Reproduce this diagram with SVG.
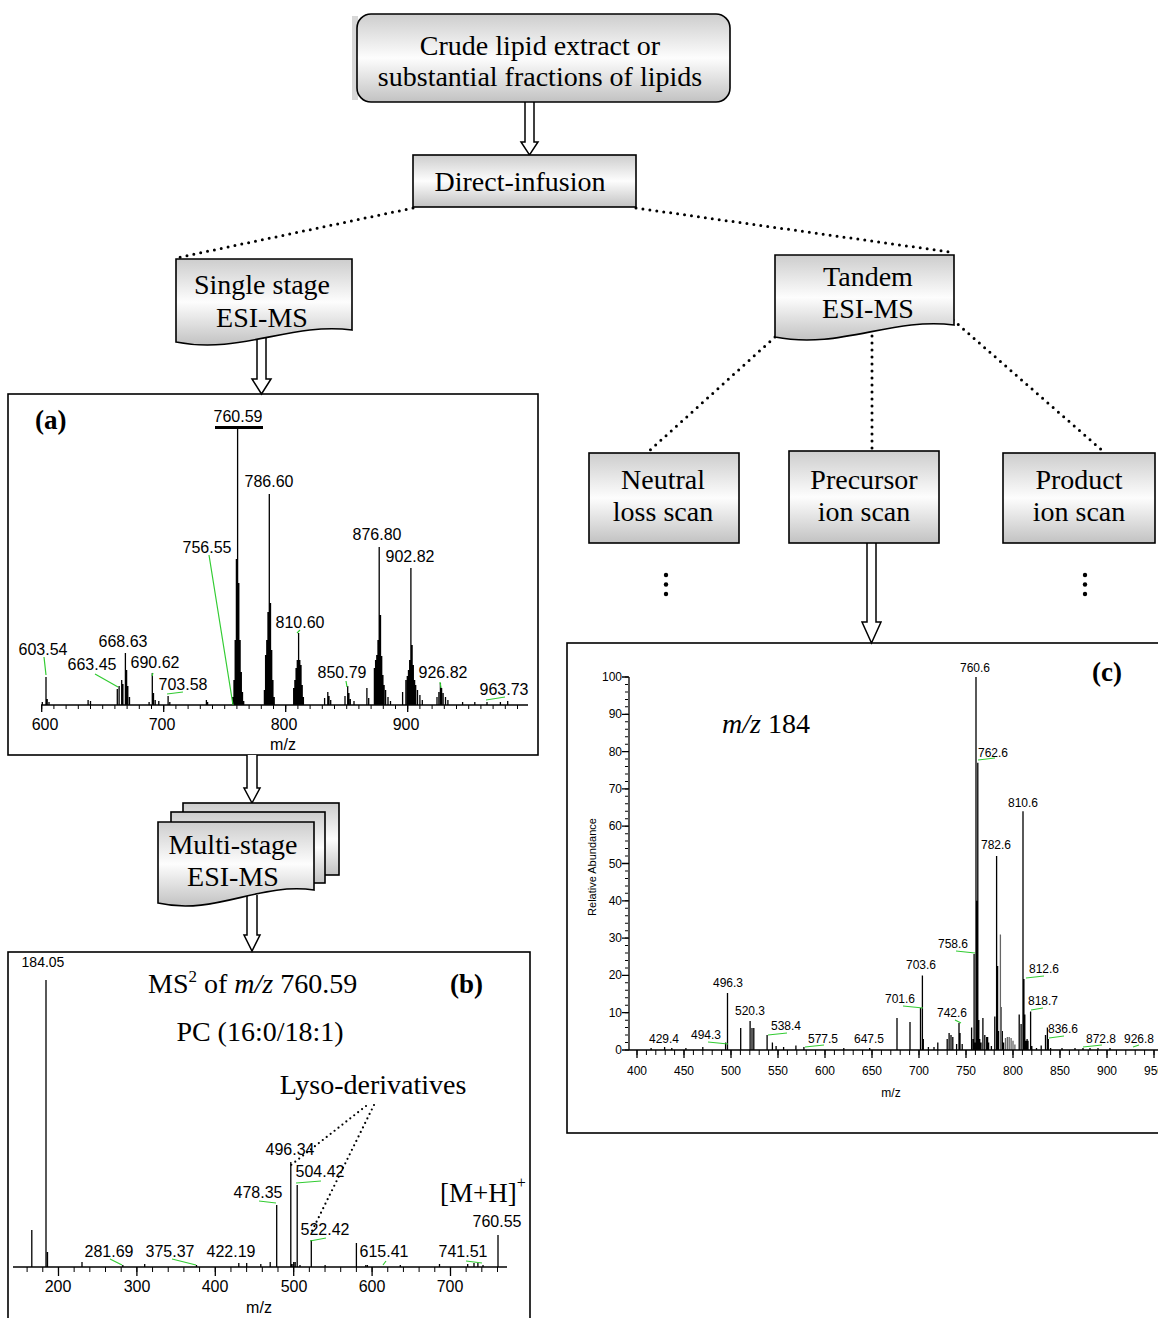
<svg xmlns="http://www.w3.org/2000/svg" width="1158" height="1318" viewBox="0 0 1158 1318">
<defs>
<linearGradient id="g" x1="0" y1="0" x2="0" y2="1">
<stop offset="0" stop-color="#cdcdcd"/><stop offset="0.5" stop-color="#fdfdfd"/><stop offset="1" stop-color="#c2c2c2"/>
</linearGradient>
<style>
.node{fill:url(#g);stroke:#000;stroke-width:1.6}
.t{font-family:"Liberation Serif","Times New Roman",serif;font-size:28px;text-anchor:middle;fill:#000}
.b{font-family:"Liberation Serif","Times New Roman",serif;font-size:27px;font-weight:bold;fill:#000}
.dot{fill:none;stroke:#000;stroke-width:3;stroke-dasharray:0 7;stroke-linecap:round}
.dot2{fill:none;stroke:#000;stroke-width:2.2;stroke-dasharray:0 5;stroke-linecap:round}
.arr{fill:#fff;stroke:#000;stroke-width:1.5}
.frame{fill:#fff;stroke:#000;stroke-width:1.6}
.sa{font-family:"Liberation Sans",Arial,sans-serif;font-size:16px;text-anchor:middle;fill:#000}
.sc{font-family:"Liberation Sans",Arial,sans-serif;font-size:12px;text-anchor:middle;fill:#000}
.lead{stroke:#3c3;stroke-width:1.2;fill:none}
.pk{stroke:#000;stroke-width:1.3;fill:none}
.ax{stroke:#000;stroke-width:1.3;fill:none}
</style>
</defs>
<rect width="1158" height="1318" fill="#fff"/>

<g id="spectrum-a">
<rect class="frame" x="8" y="394" width="530" height="361"/>
<text class="b" x="35" y="429">(a)</text>
<path class="pk" d="M42.3 705V702M46 705V677M47.2 705V699M49 705V702M88.1 705V700M90.5 705V701M117.3 705V689M119.1 705V686M121.7 705V680M122.9 705V684M125.4 705V653M126.6 705V670M127.8 705V686M129.5 705V697M149.1 705V702M152.3 705V673M153.5 705V693M155.2 705V700M158.8 705V701M168.1 705V696M169.8 705V702M206.4 705V700M207.6 705V702M232.7 705V697M234 705V680M235.2 705V640M236.4 705V559M237.6 705V428M238.8 705V583M240.1 705V640M241.3 705V672M242.5 705V692M243.7 705V701M264.4 705V690M265.6 705V655M266.8 705V640M268 705V612M269.3 705V494M270.5 705V603M271.7 705V650M272.9 705V680M274.2 705V697M293.7 705V688M294.9 705V680M296.1 705V668M297.3 705V660M298.6 705V633M299.8 705V660M301 705V665M302.2 705V685M303.4 705V697M324.6 705V698M327.8 705V692M329 705V696M330.7 705V700M345 705V696M347.7 705V686M348.9 705V693M350.3 705V699M354 705V701M366.9 705V688M368.7 705V698M374.4 705V668M375.6 705V660M376.8 705V655M378 705V640M379.2 705V547M380.5 705V615M381.7 705V656M382.9 705V675M384.1 705V685M385.6 705V690M388 705V697M390.5 705V701M402.6 705V692M405.9 705V680M407.3 705V676M408.5 705V670M409.7 705V660M410.9 705V568M412.1 705V645M413.3 705V665M414.6 705V680M415.7 705V685M417.5 705V690M419.9 705V695M422.3 705V700M437 705V697M438.9 705V692M440.4 705V683M441.6 705V688M443.1 705V693M445.5 705V697M447.9 705V700M462.6 705V702M474.8 705V702M487 705V702M500.4 705V702M507.7 705V701"/>
<path class="ax" d="M41 705H528"/>
<path d="M41.2 707H520" stroke="#000" stroke-width="4" stroke-dasharray="1 11.2" fill="none"/>
<path class="ax" d="M41.7 705V712M163.7 705V712M285.7 705V712M407.7 705V712"/>
<rect x="215" y="426" width="48" height="3" fill="#000"/>
<path class="lead" d="M44 657L46 675M95 674L118 687M153 673L152 676M167 694L183 692M209 555L233 705M297 633L300 630M346 681L347 687M440 682L441 688M486 700L505 697"/>
<g class="sa">
<text x="238" y="422">760.59</text>
<text x="269" y="487">786.60</text>
<text x="207" y="553">756.55</text>
<text x="377" y="540">876.80</text>
<text x="410" y="562">902.82</text>
<text x="300" y="628">810.60</text>
<text x="43" y="655">603.54</text>
<text x="123" y="647">668.63</text>
<text x="92" y="670">663.45</text>
<text x="155" y="668">690.62</text>
<text x="183" y="690">703.58</text>
<text x="342" y="678">850.79</text>
<text x="443" y="678">926.82</text>
<text x="504" y="695">963.73</text>
<text x="45" y="730">600</text>
<text x="162" y="730">700</text>
<text x="284" y="730">800</text>
<text x="406" y="730">900</text>
<text x="283" y="750">m/z</text>
</g>
</g>

<g id="spectrum-b">
<rect class="frame" x="8" y="952" width="522" height="380"/>
<text class="t" x="148" y="993" style="text-anchor:start">MS<tspan dy="-11" font-size="17">2</tspan><tspan dy="11"> of </tspan><tspan font-style="italic">m/z</tspan> 760.59</text>
<text class="b" x="450" y="993">(b)</text>
<text class="t" x="260" y="1041">PC (16:0/18:1)</text>
<text class="t" x="373" y="1094">Lyso-derivatives</text>
<text class="t" x="440" y="1202" style="text-anchor:start;font-size:27px">[M+H]<tspan dy="-14" font-size="16">+</tspan></text>
<path class="pk" d="M31.8 1267V1230M46 1267V980M47.5 1267V1252M82 1267V1262M122.8 1267V1265M144.7 1267V1264M196.5 1267V1265M238.8 1267V1263M246.7 1267V1263M260.8 1267V1264M270.2 1267V1262M276.7 1267V1205M290.8 1267V1162M292.1 1267V1264M293.7 1267V1262M295.2 1267V1262M297.2 1267V1185M300 1267V1265M311.3 1267V1240M325.1 1267V1265M356.4 1267V1243M365.8 1267V1265M367.4 1267V1265M400.3 1267V1265M439.5 1267V1264M467.7 1267V1264M474 1267V1263M477.9 1267V1263M483 1267V1265M498 1267V1235"/>
<path class="ax" d="M13 1267H507"/>
<path d="M26.6 1269.5H499" stroke="#000" stroke-width="5" stroke-dasharray="1 14.68" fill="none"/>
<path class="ax" d="M58.5 1267V1276M136.9 1267V1276M215.3 1267V1276M293.7 1267V1276M372.1 1267V1276M450.5 1267V1276"/>
<path class="lead" d="M296 1183L321 1181M259 1201L276 1203M310 1241L326 1238M110 1259L122 1265M172 1259L196 1265M383 1265L386 1261M466 1261L482 1263"/>
<g class="sa">
<text x="43" y="967" style="font-size:14px">184.05</text>
<text x="290" y="1155">496.34</text>
<text x="320" y="1177">504.42</text>
<text x="258" y="1198">478.35</text>
<text x="325" y="1235">522.42</text>
<text x="497" y="1227">760.55</text>
<text x="109" y="1257">281.69</text>
<text x="170" y="1257">375.37</text>
<text x="231" y="1257">422.19</text>
<text x="384" y="1257">615.41</text>
<text x="463" y="1257">741.51</text>
<text x="58" y="1292">200</text>
<text x="137" y="1292">300</text>
<text x="215" y="1292">400</text>
<text x="294" y="1292">500</text>
<text x="372" y="1292">600</text>
<text x="450" y="1292">700</text>
<text x="259" y="1313">m/z</text>
</g>
</g>

<g id="spectrum-c">
<rect class="frame" x="567" y="643" width="600" height="490"/>
<text class="b" x="1092" y="681">(c)</text>
<text class="t" x="722" y="733" style="text-anchor:start"><tspan font-style="italic">m/z</tspan> 184</text>
<path class="pk" d="M651.1 1050V1048M664.6 1050V1047M671.8 1050V1048M685.9 1050V1048M702.8 1050V1047M725.6 1050V1042.5M727.5 1050V993M740.7 1050V1028M750.1 1050V1021M752 1050V1028M753.8 1050V1028M767.1 1050V1035M772.4 1050V1042.5M776.1 1050V1046M783.6 1050V1047M795.9 1050V1045.5M803.9 1050V1047M843.8 1050V1048M869.7 1050V1048M897 1050V1018M910 1050V1022M920.5 1050V1008M922.4 1050V975.4M923.3 1050V1039M928.4 1050V1047M934 1050V1047M937.8 1050V1042.5M947.2 1050V1039M949.1 1050V1033M951 1050V1035M952.8 1050V1037M956.6 1050V1044M959 1050V1023M960 1050V1033M962.2 1050V1044M971.6 1050V1027.6M973.1 1050V1039M974.1 1050V954M975 1050V1042.5M976 1050V677M976.9 1050V900.8M977.8 1050V762.8M978.8 1050V1020M979.7 1050V1039M981 1050V1042.5M982.9 1050V1018M984.8 1050V1035M986.7 1050V1037M987.6 1050V1037M988.6 1050V1042.5M991.4 1050V1046M994.8 1050V1016.4M996.6 1050V856M997.6 1050V966M998.5 1050V1031M1002.3 1050V1031M1003.6 1050V1042.5M1019.2 1050V1014.6M1021.1 1050V1024M1023 1050V811.3M1023.9 1050V979M1024.8 1050V1014.6M1025.8 1050V1040.7M1027.1 1050V1039M1028 1050V1040.7M1030.6 1050V1011.6M1031.8 1050V1046M1036.5 1050V1048M1041.2 1050V1045.5M1045.5 1050V1035M1047.4 1050V1027.6M1048.3 1050V1039M1050.6 1050V1048M1062 1050V1048M1075 1050V1048M1083 1050V1048M1090 1050V1048M1098 1050V1048M1110 1050V1048"/>
<path d="M1000.4 1050V934.4M1001.3 1050V1007M1005.5 1050V1038M1007.4 1050V1037M1009.2 1050V1037M1011.1 1050V1038M1013 1050V1040.7M1014.9 1050V1044.4" stroke="#666" stroke-width="1.3" fill="none"/>
<path class="ax" d="M629 677V1050H1158"/>
<path d="M626.5 1050.5V676" stroke="#000" stroke-width="3" stroke-dasharray="1 6.46" fill="none"/>
<path class="ax" d="M622 677H629M622 714.3H629M622 751.6H629M622 788.9H629M622 826.2H629M622 863.5H629M622 900.8H629M622 938.1H629M622 975.4H629M622 1012.7H629M622 1050H629"/>
<path d="M636.5 1052.5H1158" stroke="#000" stroke-width="5" stroke-dasharray="1 8.4" fill="none"/>
<path class="ax" d="M637 1050V1058M684 1050V1058M731 1050V1058M778 1050V1058M825 1050V1058M872 1050V1058M919 1050V1058M966 1050V1058M1013 1050V1058M1060 1050V1058M1107 1050V1058M1154 1050V1058"/>
<path class="lead" d="M978 760L995 758M956 951L975 953M903 1006L923 1008M955 1020L961 1023M1026 978L1044 976M1031 1010L1043 1008M1049 1038L1064 1036M1083 1047L1102 1045M1133 1047L1139 1045M768 1035L787 1033M708 1042L728 1044M805 1047L824 1045"/>
<g class="sc">
<text x="975" y="672">760.6</text>
<text x="993" y="757">762.6</text>
<text x="1023" y="807">810.6</text>
<text x="996" y="849">782.6</text>
<text x="953" y="948">758.6</text>
<text x="921" y="969">703.6</text>
<text x="900" y="1003">701.6</text>
<text x="952" y="1017">742.6</text>
<text x="1044" y="973">812.6</text>
<text x="1043" y="1005">818.7</text>
<text x="1063" y="1033">836.6</text>
<text x="1101" y="1043">872.8</text>
<text x="1139" y="1043">926.8</text>
<text x="728" y="987">496.3</text>
<text x="750" y="1015">520.3</text>
<text x="786" y="1030">538.4</text>
<text x="706" y="1039">494.3</text>
<text x="664" y="1043">429.4</text>
<text x="823" y="1043">577.5</text>
<text x="869" y="1043">647.5</text>
<text x="637" y="1075">400</text>
<text x="684" y="1075">450</text>
<text x="731" y="1075">500</text>
<text x="778" y="1075">550</text>
<text x="825" y="1075">600</text>
<text x="872" y="1075">650</text>
<text x="919" y="1075">700</text>
<text x="966" y="1075">750</text>
<text x="1013" y="1075">800</text>
<text x="1060" y="1075">850</text>
<text x="1107" y="1075">900</text>
<text x="1154" y="1075">950</text>
<text x="891" y="1097">m/z</text>
</g>
<g class="sc" style="text-anchor:end">
<text x="622" y="681">100</text>
<text x="622" y="718.3">90</text>
<text x="622" y="755.6">80</text>
<text x="622" y="792.9">70</text>
<text x="622" y="830.2">60</text>
<text x="622" y="867.5">50</text>
<text x="622" y="904.8">40</text>
<text x="622" y="942.1">30</text>
<text x="622" y="979.4">20</text>
<text x="622" y="1016.7">10</text>
<text x="622" y="1054">0</text>
</g>
<text class="sc" x="0" y="0" transform="translate(596 867) rotate(-90)" style="font-size:11px">Relative Abundance</text>
</g>

<g id="connectors">
<path class="arr" d="M525 102V142H521L529.5 155L538 142H534V102"/>
<path class="arr" d="M257 330V379H252L261.5 394L271 379H266V330"/>
<path class="arr" d="M247 755V788H244L252 803L260 788H257V755"/>
<path class="arr" d="M247 895V935H244L252 951L260 935H257V895"/>
<path class="arr" d="M867 543V622H862L871.5 643L881 622H876V543"/>
<path class="dot" d="M413 208L176 258"/>
<path class="dot" d="M636 208L950 252"/>
<path class="dot" d="M775 337L648 452"/>
<path class="dot" d="M872 336V451"/>
<path class="dot" d="M953 320L1104 452"/>
<path class="dot2" d="M374 1105L311 1233"/>
<path class="dot2" d="M366 1106L291 1165"/>
<g fill="#000"><circle cx="666" cy="575" r="2.2"/><circle cx="666" cy="584.5" r="2.2"/><circle cx="666" cy="594" r="2.2"/><circle cx="1085" cy="575" r="2.2"/><circle cx="1085" cy="584.5" r="2.2"/><circle cx="1085" cy="594" r="2.2"/></g>
</g>

<g id="node-crude">
<rect x="352" y="16" width="6" height="84" fill="#d8d8d8"/>
<rect class="node" x="357" y="14" width="373" height="88" rx="14"/>
<text class="t" x="540" y="55">Crude lipid extract or</text>
<text class="t" x="540" y="86">substantial fractions of lipids</text>
</g>
<g id="node-direct">
<rect class="node" x="413" y="155" width="223" height="52"/>
<text class="t" x="520" y="191">Direct-infusion</text>
</g>
<g id="node-single">
<path class="node" d="M176 259H352V330C290 322 240 355 176 342Z"/>
<text class="t" x="262" y="294">Single stage</text>
<text class="t" x="262" y="327">ESI-MS</text>
</g>
<g id="node-multi">
<rect class="node" x="183" y="803" width="156" height="72"/>
<rect class="node" x="171" y="812" width="154" height="71"/>
<path class="node" d="M158 822H314V890C259 882 215 916 158 903Z"/>
<text class="t" x="233" y="854">Multi-stage</text>
<text class="t" x="233" y="886">ESI-MS</text>
</g>
<g id="node-tandem">
<path class="node" d="M775 255H954V325C891 317 840 350 775 337Z"/>
<text class="t" x="868" y="286">Tandem</text>
<text class="t" x="868" y="318">ESI-MS</text>
</g>
<g id="node-neutral">
<rect class="node" x="589" y="453" width="150" height="90"/>
<text class="t" x="663" y="489">Neutral</text>
<text class="t" x="663" y="521">loss scan</text>
</g>
<g id="node-precursor">
<rect class="node" x="789" y="451" width="150" height="92"/>
<text class="t" x="864" y="489">Precursor</text>
<text class="t" x="864" y="521">ion scan</text>
</g>
<g id="node-product">
<rect class="node" x="1003" y="453" width="152" height="90"/>
<text class="t" x="1079" y="489">Product</text>
<text class="t" x="1079" y="521">ion scan</text>
</g>
</svg>
